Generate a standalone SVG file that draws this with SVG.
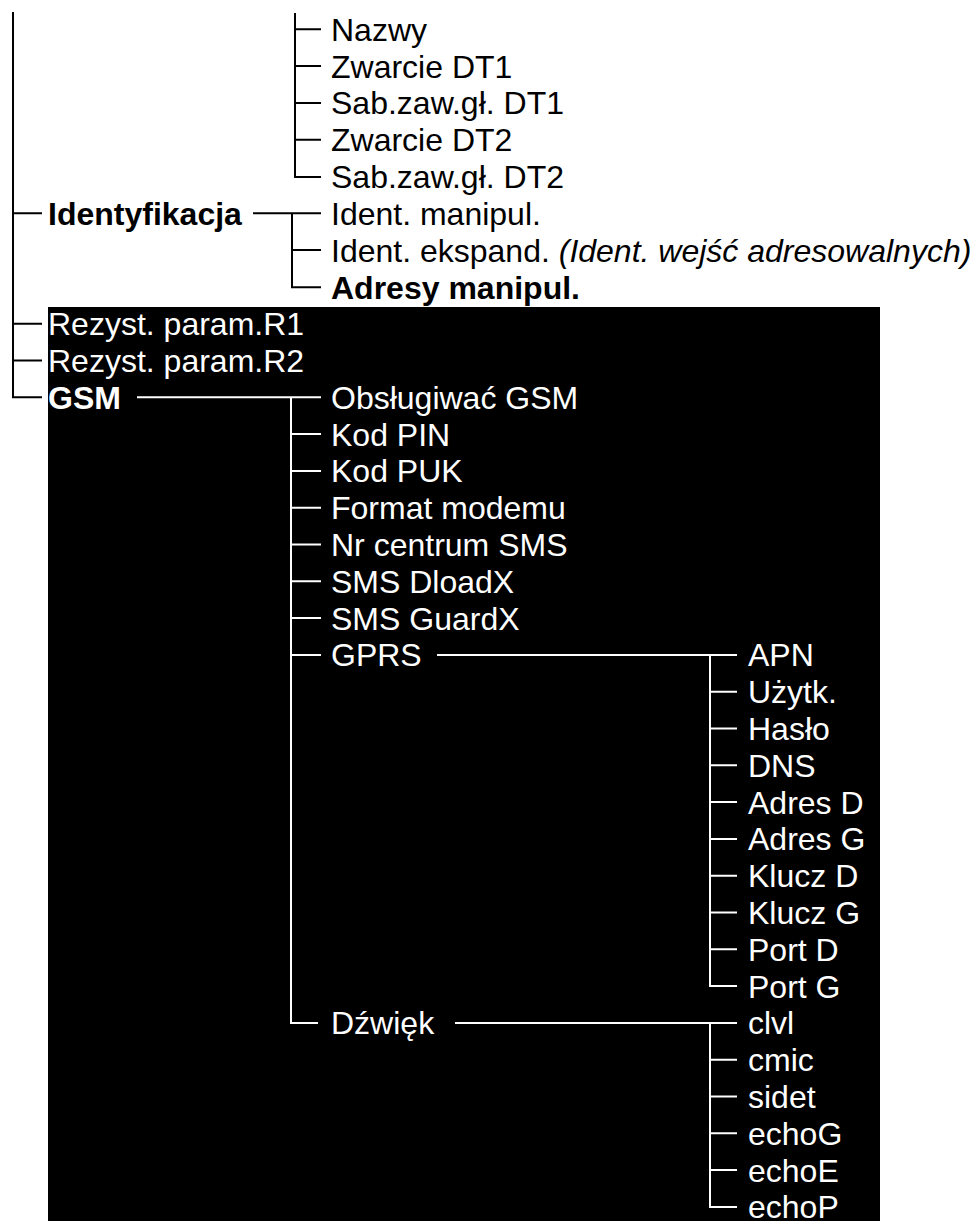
<svg xmlns="http://www.w3.org/2000/svg" width="976" height="1221" viewBox="0 0 976 1221">
<style>
text{font-family:"Liberation Sans",Arial,sans-serif;font-size:32px}
.d{fill:#000}.w{fill:#fff}.b{font-weight:bold}.i{font-style:italic}
.lk{stroke:#000;stroke-width:2;fill:none}.lw{stroke:#fff;stroke-width:2;fill:none}
</style>
<rect id="panel" x="48" y="307" width="832" height="914" fill="#000"/>
<g id="connectors">
<path class="lk" d="M13 12V397.3H42M13 213.3H42M13 323.7H42M13 360.5H42"/>
<path class="lk" d="M295 13V176.9H321M295 29.3H321M295 66.1H321M295 102.9H321M295 139.7H321"/>
<path class="lk" d="M253 213.3H321M292 213.3V287.3H321M292 250.1H321"/>
<path class="lw" d="M137 397.3H321M291 397.3V1022.9H318M291 434.1H321M291 470.9H321M291 507.7H321M291 544.5H321M291 581.3H321M291 618.1H321M291 654.9H321"/>
<path class="lw" d="M437 654.9H737M710 654.9V986.1H737M710 691.7H737M710 728.5H737M710 765.3H737M710 802.1H737M710 838.9H737M710 875.7H737M710 912.5H737M710 949.3H737"/>
<path class="lw" d="M455 1022.9H737M710 1022.9V1206.9H737M710 1059.7H737M710 1096.5H737M710 1133.3H737M710 1170.1H737"/>
</g>
<g id="n-nazwy"><text class="d" x="331" y="40.8">Nazwy</text></g>
<g id="n-zwarcie1"><text class="d" x="331" y="77.6">Zwarcie DT1</text></g>
<g id="n-sab1"><text class="d" x="331" y="114.4">Sab.zaw.gł. DT1</text></g>
<g id="n-zwarcie2"><text class="d" x="331" y="151.2">Zwarcie DT2</text></g>
<g id="n-sab2"><text class="d" x="331" y="188.4">Sab.zaw.gł. DT2</text></g>
<g id="n-ident"><text class="d b" x="48" y="224.8">Identyfikacja</text></g>
<g id="n-identman"><text class="d" x="331" y="224.8">Ident. manipul.</text></g>
<g id="n-identeks"><text class="d" x="331" y="261.6">Ident. ekspand. <tspan class="i">(Ident. wejść adresowalnych)</tspan></text></g>
<g id="n-adresy"><text class="d b" x="331" y="298.8">Adresy manipul.</text></g>
<g id="n-r1"><text class="w" x="48" y="335.2">Rezyst. param.R1</text></g>
<g id="n-r2"><text class="w" x="48" y="372">Rezyst. param.R2</text></g>
<g id="n-gsm"><text class="w b" x="48" y="408.8">GSM</text></g>
<g id="n-obsl"><text class="w" x="331" y="408.8">Obsługiwać GSM</text></g>
<g id="n-pin"><text class="w" x="331" y="445.6">Kod PIN</text></g>
<g id="n-puk"><text class="w" x="331" y="482.4">Kod PUK</text></g>
<g id="n-format"><text class="w" x="331" y="519.2">Format modemu</text></g>
<g id="n-nrsms"><text class="w" x="331" y="556">Nr centrum SMS</text></g>
<g id="n-dload"><text class="w" x="331" y="592.8">SMS DloadX</text></g>
<g id="n-guard"><text class="w" x="331" y="629.6">SMS GuardX</text></g>
<g id="n-gprs"><text class="w" x="331" y="666.4">GPRS</text></g>
<g id="n-apn"><text class="w" x="748" y="666.4">APN</text></g>
<g id="n-uzytk"><text class="w" x="748" y="703.2">Użytk.</text></g>
<g id="n-haslo"><text class="w" x="748" y="740">Hasło</text></g>
<g id="n-dns"><text class="w" x="748" y="776.8">DNS</text></g>
<g id="n-adresd"><text class="w" x="748" y="813.6">Adres D</text></g>
<g id="n-adresg"><text class="w" x="748" y="850.4">Adres G</text></g>
<g id="n-kluczd"><text class="w" x="748" y="887.2">Klucz D</text></g>
<g id="n-kluczg"><text class="w" x="748" y="924">Klucz G</text></g>
<g id="n-portd"><text class="w" x="748" y="960.8">Port D</text></g>
<g id="n-portg"><text class="w" x="748" y="997.6">Port G</text></g>
<g id="n-dzwiek"><text class="w" x="331" y="1034.4">Dźwięk</text></g>
<g id="n-clvl"><text class="w" x="748" y="1034.4">clvl</text></g>
<g id="n-cmic"><text class="w" x="748" y="1071.2">cmic</text></g>
<g id="n-sidet"><text class="w" x="748" y="1108">sidet</text></g>
<g id="n-echog"><text class="w" x="748" y="1144.8">echoG</text></g>
<g id="n-echoe"><text class="w" x="748" y="1181.6">echoE</text></g>
<g id="n-echop"><text class="w" x="748" y="1218.4">echoP</text></g>
</svg>
